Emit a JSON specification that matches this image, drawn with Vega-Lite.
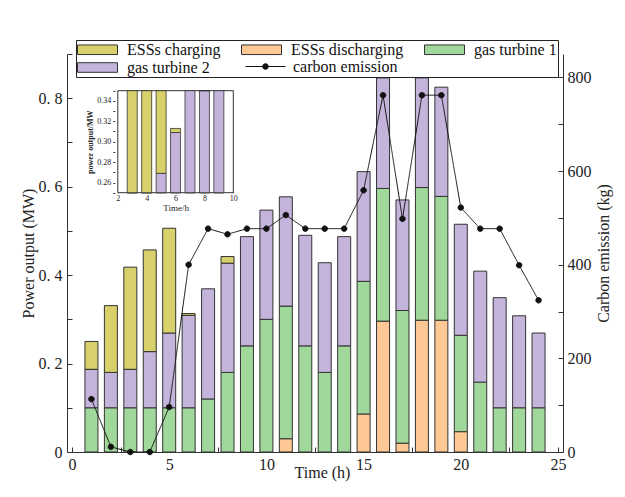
{
  "$schema": "https://vega.github.io/schema/vega-lite/v6.json",
  "autosize": "none",
  "width": 496,
  "height": 398,
  "padding": {"left": 67, "top": 54, "right": 62, "bottom": 45},
  "background": "white",
  "config": {
    "view": {"stroke": null},
    "font": "Liberation Serif",
    "axis": {
      "labelFont": "Liberation Serif",
      "titleFont": "Liberation Serif",
      "labelColor": "#222",
      "titleColor": "#222",
      "domainColor": "#333",
      "tickColor": "#333",
      "grid": false,
      "labelFontSize": 16,
      "titleFontSize": 16,
      "titleFontWeight": "normal"
    }
  },
  "datasets": {
    "power": [
      {"t": 1, "series": "gas turbine 1", "value": 0.10},
      {"t": 1, "series": "gas turbine 2", "value": 0.087},
      {"t": 1, "series": "ESSs charging", "value": 0.063},
      {"t": 2, "series": "gas turbine 1", "value": 0.10},
      {"t": 2, "series": "gas turbine 2", "value": 0.08},
      {"t": 2, "series": "ESSs charging", "value": 0.151},
      {"t": 3, "series": "gas turbine 1", "value": 0.10},
      {"t": 3, "series": "gas turbine 2", "value": 0.087},
      {"t": 3, "series": "ESSs charging", "value": 0.231},
      {"t": 4, "series": "gas turbine 1", "value": 0.10},
      {"t": 4, "series": "gas turbine 2", "value": 0.127},
      {"t": 4, "series": "ESSs charging", "value": 0.23},
      {"t": 5, "series": "gas turbine 1", "value": 0.10},
      {"t": 5, "series": "gas turbine 2", "value": 0.169},
      {"t": 5, "series": "ESSs charging", "value": 0.237},
      {"t": 6, "series": "gas turbine 1", "value": 0.10},
      {"t": 6, "series": "gas turbine 2", "value": 0.209},
      {"t": 6, "series": "ESSs charging", "value": 0.004},
      {"t": 7, "series": "gas turbine 1", "value": 0.12},
      {"t": 7, "series": "gas turbine 2", "value": 0.249},
      {"t": 8, "series": "gas turbine 1", "value": 0.18},
      {"t": 8, "series": "gas turbine 2", "value": 0.247},
      {"t": 8, "series": "ESSs charging", "value": 0.015},
      {"t": 9, "series": "gas turbine 1", "value": 0.24},
      {"t": 9, "series": "gas turbine 2", "value": 0.247},
      {"t": 10, "series": "gas turbine 1", "value": 0.30},
      {"t": 10, "series": "gas turbine 2", "value": 0.247},
      {"t": 11, "series": "ESSs discharging", "value": 0.03},
      {"t": 11, "series": "gas turbine 1", "value": 0.30},
      {"t": 11, "series": "gas turbine 2", "value": 0.247},
      {"t": 12, "series": "gas turbine 1", "value": 0.24},
      {"t": 12, "series": "gas turbine 2", "value": 0.25},
      {"t": 13, "series": "gas turbine 1", "value": 0.18},
      {"t": 13, "series": "gas turbine 2", "value": 0.248},
      {"t": 14, "series": "gas turbine 1", "value": 0.24},
      {"t": 14, "series": "gas turbine 2", "value": 0.247},
      {"t": 15, "series": "ESSs discharging", "value": 0.086},
      {"t": 15, "series": "gas turbine 1", "value": 0.30},
      {"t": 15, "series": "gas turbine 2", "value": 0.248},
      {"t": 16, "series": "ESSs discharging", "value": 0.296},
      {"t": 16, "series": "gas turbine 1", "value": 0.30},
      {"t": 16, "series": "gas turbine 2", "value": 0.25},
      {"t": 17, "series": "ESSs discharging", "value": 0.02},
      {"t": 17, "series": "gas turbine 1", "value": 0.30},
      {"t": 17, "series": "gas turbine 2", "value": 0.25},
      {"t": 18, "series": "ESSs discharging", "value": 0.298},
      {"t": 18, "series": "gas turbine 1", "value": 0.30},
      {"t": 18, "series": "gas turbine 2", "value": 0.248},
      {"t": 19, "series": "ESSs discharging", "value": 0.298},
      {"t": 19, "series": "gas turbine 1", "value": 0.28},
      {"t": 19, "series": "gas turbine 2", "value": 0.247},
      {"t": 20, "series": "ESSs discharging", "value": 0.046},
      {"t": 20, "series": "gas turbine 1", "value": 0.218},
      {"t": 20, "series": "gas turbine 2", "value": 0.251},
      {"t": 21, "series": "gas turbine 1", "value": 0.158},
      {"t": 21, "series": "gas turbine 2", "value": 0.251},
      {"t": 22, "series": "gas turbine 1", "value": 0.10},
      {"t": 22, "series": "gas turbine 2", "value": 0.249},
      {"t": 23, "series": "gas turbine 1", "value": 0.10},
      {"t": 23, "series": "gas turbine 2", "value": 0.208},
      {"t": 24, "series": "gas turbine 1", "value": 0.10},
      {"t": 24, "series": "gas turbine 2", "value": 0.169}
    ],
    "carbon": [
      {"t": 1, "co2": 113},
      {"t": 2, "co2": 11},
      {"t": 3, "co2": 0},
      {"t": 4, "co2": 0},
      {"t": 5, "co2": 96},
      {"t": 6, "co2": 400},
      {"t": 7, "co2": 477},
      {"t": 8, "co2": 465},
      {"t": 9, "co2": 477},
      {"t": 10, "co2": 477},
      {"t": 11, "co2": 506},
      {"t": 12, "co2": 477},
      {"t": 13, "co2": 477},
      {"t": 14, "co2": 477},
      {"t": 15, "co2": 559},
      {"t": 16, "co2": 762},
      {"t": 17, "co2": 498},
      {"t": 18, "co2": 762},
      {"t": 19, "co2": 762},
      {"t": 20, "co2": 522},
      {"t": 21, "co2": 477},
      {"t": 22, "co2": 477},
      {"t": 23, "co2": 399},
      {"t": 24, "co2": 324}
    ]
  },
  "layer": [
    {
      "layer": [
        {
          "data": {"name": "power"},
          "transform": [{"stack": "value", "groupby": ["t"], "as": ["v0", "v1"]}],
          "mark": {"type": "bar", "width": 13, "stroke": "#333", "strokeWidth": 1},
          "encoding": {
            "x": {
              "field": "t", "type": "quantitative",
              "scale": {"domain": [0, 25], "nice": false, "zero": false},
              "axis": {
                "orient": "bottom",
                "values": [0, 2.5, 5, 7.5, 10, 12.5, 15, 17.5, 20, 22.5, 25],
                "labelExpr": "datum.value % 5 == 0 ? format(datum.value, 'd') : ''",
                "tickSize": -5,
                "labelPadding": 9,
                "title": "Time (h)",
                "titleX": 255,
                "titleY": 25,
                "titleBaseline": "alphabetic"
              }
            },
            "y": {
              "field": "v0", "type": "quantitative",
              "scale": {"domain": [0, 0.9], "nice": false},
              "axis": {
                "orient": "left",
                "values": [0, 0.1, 0.2, 0.3, 0.4, 0.5, 0.6, 0.7, 0.8, 0.9],
                "labelExpr": "datum.value == 0 ? '0' : (round(datum.value * 10) % 2 == 0 && datum.value < 0.85 ? replace(format(datum.value, '.1f'), '.', '. ') : '')",
                "tickSize": -5,
                "labelPadding": 10,
                "title": "Power output (MW)",
                "titleX": -39,
                "titleBaseline": "middle"
              }
            },
            "y2": {"field": "v1"},
            "color": {
              "field": "series", "type": "nominal",
              "scale": {
                "domain": ["ESSs charging", "ESSs discharging", "gas turbine 1", "gas turbine 2"],
                "range": ["#d8d06a", "#fdc894", "#a0d89b", "#c4b4dc"]
              },
              "legend": {
                "title": null,
                "orient": "none",
                "legendX": 9,
                "legendY": -14,
                "columns": 3,
                "direction": "horizontal",
                "strokeColor": "#222",
                "fillColor": "white",
                "padding": 1,
                "rowPadding": 1,
                "columnPadding": 18,
                "labelFont": "Liberation Serif",
                "labelFontSize": 16,
                "labelColor": "#111",
                "labelLimit": 0,
                "labelOffset": 33,
                "symbolSize": 256,
                "symbolType": "M-1,-0.6H4V0.6H-1Z",
                "symbolStrokeColor": "#222",
                "symbolStrokeWidth": 1,
                "symbolOpacity": 1
              }
            }
          }
        },
        {
          "data": {"name": "carbon"},
          "mark": {"type": "line", "color": "#111", "stroke": "#111", "strokeWidth": 1, "point": {"filled": true, "size": 30, "color": "#111", "stroke": "#111", "strokeWidth": 1}},
          "encoding": {
            "x": {"field": "t", "type": "quantitative"},
            "y": {
              "field": "co2", "type": "quantitative",
              "scale": {"domain": [0, 850], "nice": false},
              "axis": {
                "orient": "right",
                "values": [0, 100, 200, 300, 400, 500, 600, 700, 800],
                "labelExpr": "datum.value % 200 == 0 ? format(datum.value, 'd') : ''",
                "tickSize": -5,
                "labelPadding": 9,
                "title": "Carbon emission (kg)",
                "titleAngle": 270,
                "titleX": 40,
                "titleBaseline": "middle"
              }
            },
            "strokeDash": {
              "datum": "carbon emission",
              "scale": {"domain": ["carbon emission"], "range": [[1, 0]]},
              "legend": {
                "title": null,
                "orient": "none",
                "legendX": 178,
                "legendY": 4,
                "padding": 0,
                "labelFont": "Liberation Serif",
                "labelFontSize": 16,
                "labelColor": "#111",
                "labelLimit": 0,
                "labelOffset": 31,
                "symbolSize": 256,
                "symbolType": "M-1,-0.07H4V0.07H-1ZM1.1,0A0.4,0.4,0,1,1,1.9,0A0.4,0.4,0,1,1,1.1,0Z",
                "symbolStrokeColor": "#111",
                "symbolFillColor": "#111",
                "symbolStrokeWidth": 1,
                "symbolOpacity": 1
              }
            }
          }
        }
      ],
      "resolve": {"scale": {"y": "independent"}}
    },
    {
      "layer": [
        {
          "data": {"values": [{}]},
          "mark": {"type": "rect", "fill": "white", "stroke": "#333", "strokeWidth": 1},
          "encoding": {
            "x": {
              "datum": 2, "type": "quantitative",
              "scale": {"domain": [2, 10], "range": [45.8, 171.3], "nice": false, "zero": false},
              "axis": {
                "orient": "bottom",
                "offset": -259.3,
                "values": [2, 4, 6, 8, 10],
                "format": "d",
                "labelFontSize": 8,
                "labelPadding": 4,
                "tickSize": -2,
                "domain": false,
                "title": "Time/h",
                "titleFontSize": 9,
                "titlePadding": 1
              }
            },
            "x2": {"datum": 10},
            "y": {
              "datum": 0.25, "type": "quantitative",
              "scale": {"domain": [0.25, 0.35], "range": [138.7, 36.7], "clamp": true, "nice": false, "zero": false},
              "axis": {
                "orient": "left",
                "offset": -45.8,
                "values": [0.25, 0.26, 0.27, 0.28, 0.29, 0.3, 0.31, 0.32, 0.33, 0.34, 0.35],
                "labelExpr": "indexof(['0.26','0.28','0.30','0.32','0.34'], format(datum.value, '.2f')) >= 0 ? format(datum.value, '.2f') : ''",
                "labelFontSize": 8,
                "labelPadding": 4,
                "tickSize": -2,
                "domain": false,
                "title": "power output/MW",
                "titleFontSize": 8,
                "titleFontWeight": "bold",
                "titlePadding": 2
              }
            },
            "y2": {"datum": 0.35}
          }
        },
        {
          "data": {"name": "power"},
          "transform": [
            {"stack": "value", "groupby": ["t"], "as": ["v0", "v1"]},
            {"filter": "datum.t >= 3 && datum.t <= 9"}
          ],
          "mark": {"type": "bar", "width": 10, "stroke": "#333", "strokeWidth": 0.8},
          "encoding": {
            "x": {
              "field": "t", "type": "quantitative",
              "scale": {"domain": [2, 10], "range": [45.8, 171.3], "nice": false, "zero": false},
              "axis": {
                "orient": "bottom",
                "offset": -259.3,
                "values": [2, 4, 6, 8, 10],
                "format": "d",
                "labelFontSize": 8,
                "labelPadding": 4,
                "tickSize": -2,
                "domain": false,
                "title": "Time/h",
                "titleFontSize": 9,
                "titlePadding": 1
              }
            },
            "y": {
              "field": "v0", "type": "quantitative",
              "scale": {"domain": [0.25, 0.35], "range": [138.7, 36.7], "clamp": true, "nice": false, "zero": false},
              "axis": {
                "orient": "left",
                "offset": -45.8,
                "values": [0.25, 0.26, 0.27, 0.28, 0.29, 0.3, 0.31, 0.32, 0.33, 0.34, 0.35],
                "labelExpr": "indexof(['0.26','0.28','0.30','0.32','0.34'], format(datum.value, '.2f')) >= 0 ? format(datum.value, '.2f') : ''",
                "labelFontSize": 8,
                "labelPadding": 4,
                "tickSize": -2,
                "domain": false,
                "title": "power output/MW",
                "titleFontSize": 8,
                "titleFontWeight": "bold",
                "titlePadding": 2
              }
            },
            "y2": {"field": "v1"},
            "color": {"field": "series", "type": "nominal"}
          }
        }
      ]
    }
  ],
  "resolve": {"scale": {"x": "independent", "y": "independent"}}
}
